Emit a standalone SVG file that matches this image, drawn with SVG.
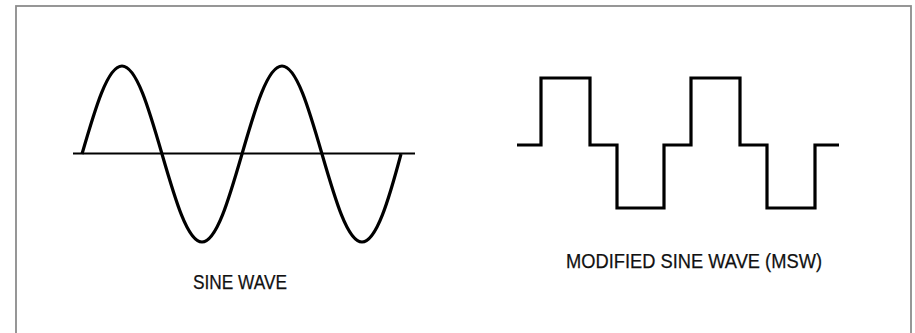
<svg xmlns="http://www.w3.org/2000/svg" width="915" height="333" viewBox="0 0 915 333">
<style>
.wave{fill:none;stroke:#000;stroke-width:3.2;stroke-linejoin:miter}
.axis{stroke:#000;stroke-width:2}
.lbl{font-family:"Liberation Sans",Arial,sans-serif;font-size:20.5px;fill:#111;stroke:#111;stroke-width:0.25}
</style>
<rect width="915" height="333" fill="#fff"/>
<rect id="frame" x="16" y="6" width="895" height="345" fill="none" stroke="#8c8c8c" stroke-width="1.8"/>
<g id="sine-wave">
<line class="axis" x1="73" y1="153.5" x2="415" y2="153.5"/>
<path class="wave" d="M82,154 C95.05,108.92 107.52,66 122,66 C136.48,66 148.95,108.92 162,154 C175.05,199.08 187.52,242 202,242 C216.48,242 228.95,199.08 242,154 C255.05,108.92 267.52,66 282,66 C296.48,66 308.95,108.92 322,154 C335.05,199.08 347.52,242 362,242 C376.48,242 388.95,199.08 401,154"/>
<text class="lbl" x="193" y="288.5" textLength="94" lengthAdjust="spacingAndGlyphs">SINE WAVE</text>
</g>
<g id="modified-sine-wave">
<path class="wave" d="M517,145 H541 V78 H590 V145 H617 V208 H664 V145 H691 V78 H740 V145 H767 V208 H815 V145 H839"/>
<text class="lbl" x="566" y="268" textLength="256" lengthAdjust="spacingAndGlyphs">MODIFIED SINE WAVE (MSW)</text>
</g>
</svg>
